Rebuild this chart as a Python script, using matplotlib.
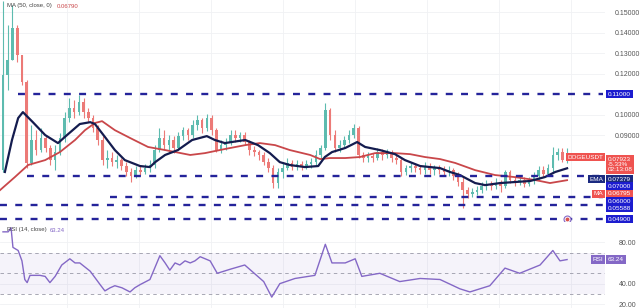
import numpy as np
import matplotlib
matplotlib.use('Agg')
import matplotlib.pyplot as plt

plt.rcParams['font.family'] = ['Liberation Sans', 'DejaVu Sans']
plt.rcParams['lines.scale_dashes'] = False

# candles (one per period)
first_open = 0.0729
closes = [0.1193, 0.1266, 0.1422, 0.1290, 0.1159, 0.0764, 0.0876, 0.0827, 0.0886, 0.0837,
          0.0778, 0.0817, 0.0886, 0.0983, 0.1032, 0.1012, 0.1061, 0.1012, 0.0983, 0.0934,
          0.0876, 0.0778, 0.0788, 0.0768, 0.0778, 0.0749, 0.0720, 0.0700, 0.0729, 0.0720,
          0.0739, 0.0754, 0.0827, 0.0886, 0.0851, 0.0876, 0.0837, 0.0895, 0.0924, 0.0900,
          0.0949, 0.0973, 0.0934, 0.0983, 0.0924, 0.0827, 0.0851, 0.0866, 0.0900, 0.0886,
          0.0900, 0.0866, 0.0827, 0.0817, 0.0803, 0.0768, 0.0739, 0.0666, 0.0720, 0.0739,
          0.0764, 0.0744, 0.0759, 0.0749, 0.0759, 0.0768, 0.0803, 0.0837, 0.1022, 0.0900,
          0.0837, 0.0851, 0.0876, 0.0900, 0.0934, 0.0803, 0.0788, 0.0798, 0.0788, 0.0817,
          0.0803, 0.0817, 0.0788, 0.0778, 0.0720, 0.0739, 0.0749, 0.0739, 0.0729, 0.0749,
          0.0729, 0.0739, 0.0729, 0.0720, 0.0729, 0.0700, 0.0671, 0.0632, 0.0612, 0.0622,
          0.0632, 0.0651, 0.0661, 0.0651, 0.0666, 0.0651, 0.0720, 0.0681, 0.0671, 0.0681,
          0.0661, 0.0676, 0.0700, 0.0729, 0.0710, 0.0739, 0.0803, 0.0817, 0.0778, 0.0792]
highs = [0.1555, 0.1437, 0.1534, 0.1437, 0.1290, 0.1170, 0.0949, 0.0924, 0.0934, 0.0900,
         0.0851, 0.0851, 0.0910, 0.1012, 0.1081, 0.1071, 0.1095, 0.1081, 0.1032, 0.0998,
         0.0949, 0.0895, 0.0827, 0.0817, 0.0803, 0.0788, 0.0768, 0.0739, 0.0749, 0.0749,
         0.0759, 0.0778, 0.0851, 0.0934, 0.0924, 0.0900, 0.0895, 0.0915, 0.0939, 0.0934,
         0.0973, 0.0998, 0.0983, 0.1002, 0.0998, 0.0934, 0.0876, 0.0886, 0.0924, 0.0924,
         0.0915, 0.0915, 0.0876, 0.0847, 0.0827, 0.0817, 0.0788, 0.0754, 0.0739, 0.0768,
         0.0788, 0.0778, 0.0778, 0.0773, 0.0778, 0.0788, 0.0827, 0.0851, 0.1056, 0.1032,
         0.0924, 0.0876, 0.0895, 0.0924, 0.0954, 0.0944, 0.0817, 0.0817, 0.0812, 0.0837,
         0.0832, 0.0832, 0.0827, 0.0803, 0.0788, 0.0754, 0.0768, 0.0764, 0.0754, 0.0768,
         0.0764, 0.0754, 0.0754, 0.0749, 0.0749, 0.0739, 0.0720, 0.0695, 0.0646, 0.0642,
         0.0651, 0.0671, 0.0681, 0.0676, 0.0690, 0.0681, 0.0729, 0.0729, 0.0700, 0.0700,
         0.0695, 0.0695, 0.0720, 0.0749, 0.0749, 0.0759, 0.0842, 0.0837, 0.0837, 0.0837]
lows = [0.0720, 0.1120, 0.1266, 0.1256, 0.1144, 0.0739, 0.0754, 0.0803, 0.0817, 0.0817,
        0.0754, 0.0729, 0.0803, 0.0866, 0.0963, 0.0983, 0.0998, 0.0983, 0.0963, 0.0915,
        0.0851, 0.0754, 0.0739, 0.0749, 0.0739, 0.0729, 0.0700, 0.0671, 0.0690, 0.0705,
        0.0710, 0.0720, 0.0739, 0.0817, 0.0827, 0.0817, 0.0812, 0.0827, 0.0876, 0.0876,
        0.0886, 0.0924, 0.0910, 0.0919, 0.0900, 0.0817, 0.0812, 0.0827, 0.0851, 0.0866,
        0.0866, 0.0851, 0.0803, 0.0798, 0.0778, 0.0754, 0.0720, 0.0642, 0.0642, 0.0690,
        0.0729, 0.0729, 0.0729, 0.0729, 0.0734, 0.0739, 0.0754, 0.0788, 0.0827, 0.0876,
        0.0817, 0.0817, 0.0837, 0.0861, 0.0886, 0.0788, 0.0768, 0.0768, 0.0768, 0.0778,
        0.0778, 0.0788, 0.0768, 0.0759, 0.0700, 0.0705, 0.0720, 0.0720, 0.0710, 0.0710,
        0.0710, 0.0705, 0.0710, 0.0705, 0.0700, 0.0681, 0.0651, 0.0544, 0.0593, 0.0598,
        0.0607, 0.0617, 0.0632, 0.0632, 0.0637, 0.0622, 0.0642, 0.0666, 0.0651, 0.0656,
        0.0646, 0.0651, 0.0661, 0.0681, 0.0695, 0.0700, 0.0720, 0.0778, 0.0768, 0.0764]

# 20 EMA (navy)
ema_x = [0.4, 1.9, 3.2, 4.2, 6.3, 8.9, 11.6, 13.5, 16.2, 18.4, 19.4, 21.5, 23.6, 25.7, 28.9,
         31.0, 32.1, 34.2, 36.9, 39.9, 43.0, 44.7, 46.8, 51.1, 53.8, 56.3, 58.4, 60.5, 63.7,
         66.5, 67.9, 69.4, 72.2, 74.7, 76.4, 79.5, 82.7, 84.8, 88.0, 92.2, 94.3, 96.4, 99.6,
         101.7, 104.9, 108.0, 111.2, 114.3, 116.5, 119.0]
ema_y = [0.0720, 0.0876, 0.0983, 0.1012, 0.0963, 0.0900, 0.0861, 0.0900, 0.0954, 0.0963,
         0.0954, 0.0891, 0.0827, 0.0778, 0.0749, 0.0744, 0.0768, 0.0803, 0.0827, 0.0876,
         0.0895, 0.0876, 0.0861, 0.0876, 0.0851, 0.0812, 0.0768, 0.0754, 0.0744, 0.0749,
         0.0793, 0.0817, 0.0837, 0.0866, 0.0842, 0.0827, 0.0807, 0.0778, 0.0749, 0.0739,
         0.0720, 0.0705, 0.0666, 0.0656, 0.0666, 0.0671, 0.0676, 0.0695, 0.0720, 0.0738]

# 50 MA (red)
ma_x = [-0.6, 2.5, 5.3, 8.9, 12.0, 15.2, 17.3, 19.4, 20.9, 23.6, 26.8, 30.6, 34.2, 39.5,
        42.6, 46.8, 51.1, 54.2, 57.4, 60.5, 64.8, 66.9, 69.0, 72.2, 75.3, 78.5, 82.7, 85.9,
        89.0, 92.2, 95.4, 99.6, 103.8, 108.0, 112.2, 115.4, 119.0]
ma_y = [0.0632, 0.0695, 0.0754, 0.0778, 0.0817, 0.0876, 0.0924, 0.0959, 0.0968, 0.0924,
        0.0886, 0.0842, 0.0827, 0.0803, 0.0812, 0.0832, 0.0851, 0.0861, 0.0851, 0.0827,
        0.0803, 0.0783, 0.0788, 0.0788, 0.0793, 0.0812, 0.0812, 0.0807, 0.0793, 0.0783,
        0.0764, 0.0729, 0.0705, 0.0695, 0.0681, 0.0666, 0.0680]

# RSI(14)
rsi_x = [0, 1.1, 1.7, 2.1, 3.2, 4.0, 4.6, 5.1, 5.7, 7.8, 8.9, 9.9, 11.0, 12.4, 14.1, 15.2,
         16.2, 18.4, 20.5, 21.5, 22.6, 23.6, 25.1, 26.8, 27.8, 28.9, 31.0, 33.1, 34.2, 35.2,
         36.3, 37.3, 38.4, 39.5, 40.5, 41.6, 43.7, 45.2, 48.0, 51.0, 53.0, 55.0, 56.7, 58.4,
         61.6, 65.8, 68.0, 69.4, 72.2, 74.3, 75.7, 79.5, 83.7, 88.0, 92.2, 96.4, 98.5, 102.7,
         105.9, 109.0, 113.3, 116.0, 117.5, 119.0]
rsi_y = [90, 90, 94, 75, 72, 62, 44, 41, 48, 48, 47, 41, 47, 58, 64, 60,
         60, 52, 39, 33, 36, 38, 36, 32, 36, 39, 44, 67, 60, 53,
         60, 58, 62, 60, 62, 66, 62, 50, 54, 58, 50, 42, 27, 40,
         45, 48, 78, 60, 60, 64, 47, 50, 42, 45, 44, 35, 32, 38,
         55, 50, 58, 72, 62, 63.24]

levels = [0.11, 0.07, 0.06, 0.05588, 0.049]
level_start = [3.2, 5.0, 22.6, -0.6, -0.6]

# plain scale labels (the rest sit under coloured tags)
price_ticks = [0.15, 0.14, 0.13, 0.12, 0.10, 0.09]
rsi_ticks = [80, 40, 20]

UP = '#5dbbaf'
DOWN = '#ec7a77'
LINE_BLUE = '#24239a'
BOX_BLUE = '#1c1ccf'
EMA_C = '#141c4f'
MA_C = '#c9474a'
RSI_C = '#8468c6'

fig = plt.figure(figsize=(6.4, 3.08), dpi=100)
W, H = 640, 308
ax = fig.add_axes([0, 86 / H, 605 / W, 222 / H])
ax2 = fig.add_axes([0, 0, 605 / W, 86 / H], sharex=ax)

n = len(closes)
idx = np.arange(n)
opens = [first_open] + closes[:-1]

for i in idx:
    c = UP if closes[i] >= opens[i] else DOWN
    ax.vlines(i, lows[i], highs[i], color=c, lw=0.8, zorder=2)
    lo, hi = min(opens[i], closes[i]), max(opens[i], closes[i])
    ax.bar(i, max(hi - lo, 0.0003), bottom=lo, width=0.55, color=c, zorder=3, lw=0)

ax.plot(ma_x, ma_y, color=MA_C, lw=1.3, zorder=4)
ax.plot(ema_x, ema_y, color=EMA_C, lw=1.6, zorder=5)

x_end = 126.6
for lv, xs in zip(levels, level_start):
    ax.plot([xs, x_end], [lv, lv], color=LINE_BLUE, lw=1.7, dashes=[5, 6], zorder=6)

ax.set_xlim(-0.63, 127.0)
ax.set_ylim(0.0476, 0.1559)
ax.set_xticks(np.arange(13.5, 127, 15.2))
ax.set_yticks(price_ticks)
ax.yaxis.tick_right()
ax.set_yticklabels(['%.5f' % t for t in price_ticks])
ax.tick_params(axis='y', length=0, pad=7, labelsize=5, labelcolor='#555555')
ax.tick_params(axis='x', length=0, labelbottom=False)
ax.grid(True, color='#f0f1f4', lw=0.6)
ax.set_axisbelow(True)
for s in ax.spines.values():
    s.set_visible(False)

# alert marker on the lowest level
ax.plot(119.0, 0.049, 'o', ms=5, mfc='white', mec=RSI_C, mew=0.8, zorder=7)
ax.plot(119.0, 0.049, 'o', ms=1.8, color='#d9534f', zorder=8)

# legend line
fig.text(7 / W, 1 - 6 / H, 'MA (50, close, 0)', fontsize=4.3, color='#444444', va='center')
fig.text(57 / W, 1 - 6 / H, '0.06790', fontsize=4.3, color=MA_C, va='center')

# RSI pane
ax2.axhspan(30, 70, color=RSI_C, alpha=0.08, lw=0)
for lv in (70, 50, 30):
    ax2.axhline(lv, color='#9a9aa8', lw=0.6, dashes=[2.5, 2.5])
ax2.plot(rsi_x, rsi_y, color=RSI_C, lw=1.0)
ax2.set_ylim(16.5, 99.5)
ax2.set_yticks(rsi_ticks)
ax2.yaxis.tick_right()
ax2.set_yticklabels(['%.2f' % t for t in rsi_ticks])
ax2.tick_params(axis='y', length=0, pad=10, labelsize=5, labelcolor='#555555')
ax2.tick_params(axis='x', length=0, labelbottom=False)
ax2.grid(True, color='#f0f1f4', lw=0.6)
ax2.set_axisbelow(True)
for s in ax2.spines.values():
    s.set_visible(False)
fig.text(7 / W, 1 - 230 / H, 'RSI (14, close)', fontsize=4.3, color='#444444', va='center')
fig.text(50 / W, 1 - 230 / H, '63.24', fontsize=4.3, color=RSI_C, va='center')

# price-scale tags, pushed apart like the platform does
fig.canvas.draw()
tags = [('0.11000', 0.11, BOX_BLUE, None, 1),
        ('0.07923\n-5.33%\n02:13:08', closes[-1], '#ef5350', 'DOGEUSDT', 3),
        ('0.07379', ema_y[-1], '#1b2a80', 'EMA', 1),
        ('0.07000', 0.07, BOX_BLUE, None, 1),
        ('0.06795', ma_y[-1], '#ef5350', 'MA', 1),
        ('0.06000', 0.06, BOX_BLUE, None, 1),
        ('0.05588', 0.05588, BOX_BLUE, None, 1),
        ('0.04900', 0.049, BOX_BLUE, None, 1)]
line_h = 7.3
prev_bottom = -1e9
for txt, val, col, left, nlines in tags:
    py = H - ax.transData.transform((0, val))[1]
    top = max(py - line_h / 2, prev_bottom)
    prev_bottom = top + line_h * nlines
    fig.text(608 / W, 1 - (top + line_h * nlines / 2) / H, txt, fontsize=4.6, color='white',
             va='center', ha='left', linespacing=1.1,
             bbox=dict(boxstyle='square,pad=0.25', fc=col, ec='none'))
    if left:
        fig.text(603 / W, 1 - (top + line_h / 2) / H, left, fontsize=4.6, color='white',
                 va='center', ha='right',
                 bbox=dict(boxstyle='square,pad=0.25', fc=col, ec='none'))

py = H - ax2.transData.transform((0, rsi_y[-1]))[1]
fig.text(608 / W, 1 - py / H, '63.24', fontsize=4.6, color='white', va='center', ha='left',
         bbox=dict(boxstyle='square,pad=0.25', fc=RSI_C, ec='none'))
fig.text(603 / W, 1 - py / H, 'RSI', fontsize=4.6, color='white', va='center', ha='right',
         bbox=dict(boxstyle='square,pad=0.25', fc=RSI_C, ec='none'))

fig.savefig('out.png', dpi=100)
